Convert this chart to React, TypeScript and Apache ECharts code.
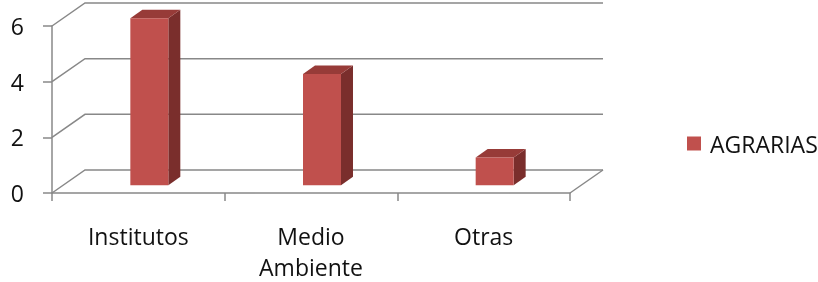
import React, { useEffect, useRef } from "react";
import * as echarts from "echarts";

const categories = ["Institutos", "Medio\nAmbiente", "Otras"];
const seriesName = "AGRARIAS";
const agrariasValues = [6, 4, 1];
const yTicks = [0, 2, 4, 6];

const FONT = "'Open Sans', sans-serif";
const FONT_SIZE = 23;
const GRID_COLOR = "#888888";
const DX = 33; // wall depth offset (x)
const DY = 23; // wall depth offset (y, upward)
const BDX = 12; // bar depth (x)
const BDY = 8.5; // bar depth (y)
const FRONT = "#C0504D";
const SIDE = "#7A2E2C";
const TOP = "#973B38";

export default function App() {
  const ref = useRef<HTMLDivElement>(null);

  useEffect(() => {
    if (!ref.current) return;
    const chart = echarts.init(ref.current, undefined, { renderer: "svg" });

    const wallsRender = (params: any, api: any) => {
      const v = api.value(1);
      const cs = params.coordSys;
      const y = api.coord([0, v])[1];
      const x0 = cs.x;
      const x1 = cs.x + cs.width;
      const style = { stroke: GRID_COLOR, lineWidth: 1.5, fill: "none" };
      const children: any[] = [
        {
          type: "polyline",
          shape: { points: [[x0, y], [x0 + DX, y - DY], [x1 + DX, y - DY]] },
          style,
        },
      ];
      if (v === 0) {
        children.push({
          type: "line",
          shape: { x1: x1, y1: y, x2: x1 + DX, y2: y - DY },
          style,
        });
      }
      return { type: "group", children };
    };

    const barRender = (_params: any, api: any) => {
      const idx = api.value(0);
      const v = api.value(1);
      const base = api.coord([idx, 0]);
      const top = api.coord([idx, v]);
      const band = api.size([1, 0])[0];
      const bw = band * 0.22;
      const ox = DX / 3;
      const oy = DY / 3;
      const xl = base[0] + ox - bw / 2;
      const xr = xl + bw;
      const yb = base[1] - oy;
      const yt = top[1] - oy;
      return {
        type: "group",
        children: [
          {
            type: "polygon",
            shape: { points: [[xr, yb], [xr + BDX, yb - BDY], [xr + BDX, yt - BDY], [xr, yt]] },
            style: { fill: SIDE },
          },
          {
            type: "polygon",
            shape: { points: [[xl, yt], [xl + BDX, yt - BDY], [xr + BDX, yt - BDY], [xr, yt]] },
            style: { fill: TOP },
          },
          {
            type: "rect",
            shape: { x: xl, y: yt, width: bw, height: yb - yt },
            style: { fill: FRONT },
          },
        ],
      };
    };

    chart.setOption({
      animation: false,
      textStyle: { fontFamily: FONT },
      grid: { left: 52, top: 26, width: 518, height: 170, containLabel: false },
      legend: {
        data: [seriesName],
        left: 687,
        top: 132,
        padding: 0,
        orient: "vertical",
        itemWidth: 14,
        itemHeight: 14,
        icon: "rect",
        textStyle: { fontFamily: FONT, fontSize: FONT_SIZE, color: "#111111", padding: [0, 0, 0, 4] },
      },
      xAxis: {
        type: "category",
        data: categories,
        boundaryGap: true,
        axisLine: { show: true, lineStyle: { color: GRID_COLOR, width: 1.5 } },
        axisTick: { show: true, length: 8, lineStyle: { color: GRID_COLOR, width: 1.5 } },
        axisLabel: {
          fontFamily: FONT,
          fontSize: FONT_SIZE,
          color: "#111111",
          margin: 27,
          lineHeight: 31,
          interval: 0,
        },
        splitLine: { show: false },
      },
      yAxis: {
        type: "value",
        min: 0,
        max: 6,
        interval: 2,
        axisLine: { show: true, lineStyle: { color: GRID_COLOR, width: 1.5 } },
        axisTick: { show: true, length: 9, lineStyle: { color: GRID_COLOR, width: 1.5 } },
        axisLabel: {
          fontFamily: FONT,
          fontSize: FONT_SIZE,
          color: "#111111",
          margin: 28,
          padding: [6, 0, 0, 0],
        },
        splitLine: { show: false },
      },
      series: [
        {
          name: "walls",
          type: "custom",
          renderItem: wallsRender,
          data: yTicks.map((v) => [0, v]),
          encode: { x: 0, y: 1 },
          z: 1,
          silent: true,
        },
        {
          name: seriesName,
          type: "custom",
          renderItem: barRender,
          itemStyle: { color: FRONT },
          data: agrariasValues.map((v, i) => [i, v]),
          encode: { x: 0, y: 1 },
          z: 5,
        },
      ],
    });

    return () => chart.dispose();
  }, []);

  return (
    <div
      ref={ref}
      style={{ position: "fixed", left: 0, top: 0, width: 818, height: 282 }}
    />
  );
}
